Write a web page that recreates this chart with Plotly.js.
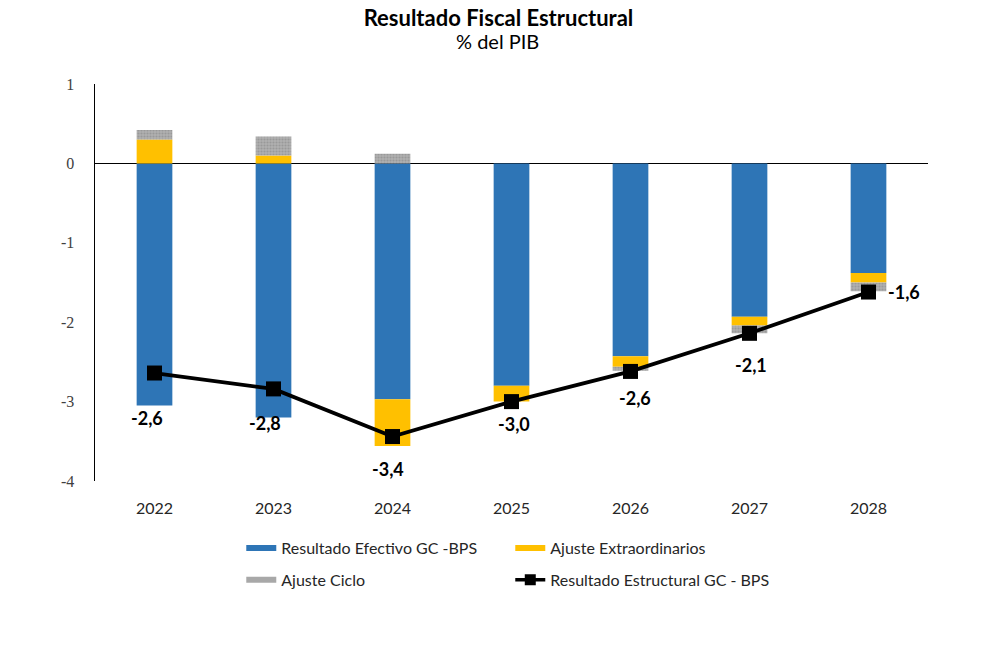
<!DOCTYPE html>
<html>
<head>
<meta charset="utf-8">
<script src="https://cdn.plot.ly/plotly-3.0.1.min.js"></script>
<style>
html,body{margin:0;padding:0;background:#fff;}
#chart{width:1000px;height:657px;}
</style>
</head>
<body>
<div id="chart"></div>
<script>
// ---- data ----
var years = ['2022', '2023', '2024', '2025', '2026', '2027', '2028'];
var resultadoEfectivo = [-3.05, -3.20, -2.97, -2.80, -2.43, -1.93, -1.38];
var ajusteExtraordinarios = [0.30, 0.10, -0.59, -0.20, -0.13, -0.11, -0.12];
var ajusteCiclo = [0.12, 0.24, 0.12, 0.00, -0.05, -0.10, -0.11];
var resultadoEstructural = [-2.64, -2.84, -3.44, -3.00, -2.62, -2.14, -1.62];
var yTickVals = [1, 0, -1, -2, -3, -4];
var yTickText = ['1', '0', '-1', '-2', '-3', '-4'];

// ---- style (label placement in pixels) ----
var labelShiftX = [-8, -9, -5, 2, 4, 1, 35];
var labelShiftY = [-45, -34, -32, -22, -27, -32, 0];

var fontSans = 'Lato, "Open Sans", sans-serif';
var cBlue = '#2E75B6', cYellow = '#FFC000', cGray = '#A8A8A8';

var traces = [
  {type: 'bar', name: 'Resultado Efectivo GC -BPS', x: years, y: resultadoEfectivo,
   marker: {color: cBlue, line: {width: 0}}, showlegend: false},
  {type: 'bar', name: 'Ajuste Extraordinarios', x: years, y: ajusteExtraordinarios,
   marker: {color: cYellow, line: {width: 0}}, showlegend: false},
  {type: 'bar', name: 'Ajuste Ciclo', x: years, y: ajusteCiclo,
   marker: {color: cGray, line: {width: 0},
            pattern: {shape: '.', fgcolor: '#999999', bgcolor: '#B0B0B0', size: 3, solidity: 0.4}},
   showlegend: false},
  {type: 'scatter', mode: 'lines+markers', name: 'Resultado Estructural GC - BPS',
   x: years, y: resultadoEstructural,
   line: {color: '#000000', width: 3.8},
   marker: {symbol: 'square', size: 15, color: '#000000'}, showlegend: false},
  // legend entries (Excel-style wide swatches)
  {type: 'scatter', mode: 'lines', name: 'Resultado Efectivo GC -BPS', x: [null], y: [null],
   line: {color: cBlue, width: 6}, legend: 'legend'},
  {type: 'scatter', mode: 'lines', name: 'Ajuste Extraordinarios', x: [null], y: [null],
   line: {color: cYellow, width: 6}, legend: 'legend'},
  {type: 'scatter', mode: 'lines', name: 'Ajuste Ciclo', x: [null], y: [null],
   line: {color: cGray, width: 6}, legend: 'legend2'},
  {type: 'scatter', mode: 'lines+markers', name: 'Resultado Estructural GC - BPS',
   x: [null], y: [null], line: {color: '#000000', width: 3.5},
   marker: {symbol: 'square', size: 11, color: '#000000'}, legend: 'legend2'}
];

var annotations = resultadoEstructural.map(function (v, i) {
  return {
    x: i, y: v, xref: 'x', yref: 'y',
    text: v.toFixed(1).replace('.', ','),
    showarrow: false, xanchor: 'center', yanchor: 'middle',
    xshift: labelShiftX[i], yshift: labelShiftY[i],
    font: {family: fontSans, size: 18, color: '#000000', weight: 'bold'}
  };
});
annotations.push({
  xref: 'paper', yref: 'paper', x: 0.4832, y: 1.108,
  xanchor: 'center', yanchor: 'middle', showarrow: false,
  text: '% del PIB', font: {family: fontSans, size: 20, color: '#000000'}
});

var legendCommon = {
  orientation: 'h', xanchor: 'left', yanchor: 'middle',
  x: 0.1756, entrywidth: 224, entrywidthmode: 'pixels',
  font: {family: fontSans, size: 16, color: '#262626'},
  bgcolor: 'rgba(0,0,0,0)', traceorder: 'normal'
};

var layout = {
  width: 1000, height: 657,
  margin: {l: 95, r: 72, t: 84, b: 176},
  paper_bgcolor: '#ffffff', plot_bgcolor: '#ffffff',
  barmode: 'relative', bargap: 0.7,
  showlegend: true,
  title: {
    text: '<b>Resultado Fiscal Estructural</b>',
    x: 0.4844, xanchor: 'center', xref: 'paper',
    y: 0.972, yanchor: 'middle', yref: 'container',
    font: {family: fontSans, size: 22, color: '#000000'}
  },
  xaxis: {
    type: 'category', range: [-0.5, 6.5], autorange: false,
    showline: false, showgrid: false, zeroline: false,
    ticks: '', ticklabelstandoff: 16,
    tickfont: {family: fontSans, size: 16, color: '#262626'}
  },
  yaxis: {
    range: [-4, 1], autorange: false, tickvals: yTickVals, ticktext: yTickText,
    showline: true, linecolor: '#000000', linewidth: 1.5,
    showgrid: false, zeroline: true, zerolinecolor: '#000000', zerolinewidth: 1.5,
    ticks: '', ticklabelstandoff: 16,
    tickfont: {family: '"Liberation Serif", "DejaVu Serif", serif', size: 16, color: '#404040'}
  },
  legend: Object.assign({}, legendCommon, {y: -0.169}),
  legend2: Object.assign({}, legendCommon, {y: -0.249}),
  annotations: annotations
};

Plotly.newPlot('chart', traces, layout, {staticPlot: true, displayModeBar: false});
</script>
</body>
</html>
